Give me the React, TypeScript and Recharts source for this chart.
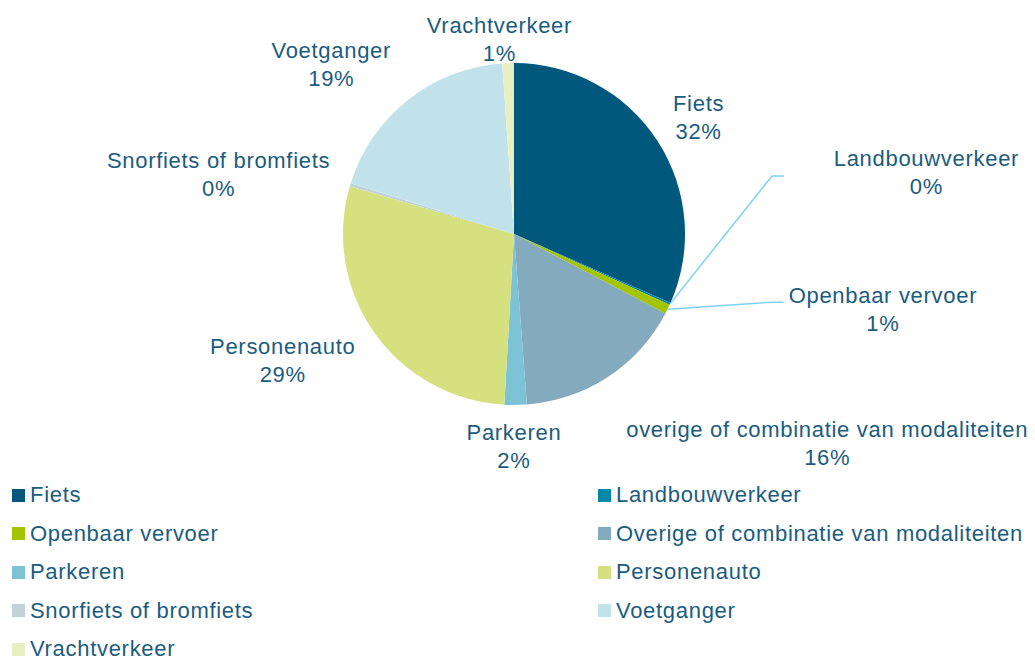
import { PieChart, Pie, Cell, Legend } from 'recharts';

// categories as used in the legend
const categories = [
  'Fiets',
  'Landbouwverkeer',
  'Openbaar vervoer',
  'Overige of combinatie van modaliteiten',
  'Parkeren',
  'Personenauto',
  'Snorfiets of bromfiets',
  'Voetganger',
  'Vrachtverkeer',
];

// label titles next to the pie (Excel writes "overige" lowercase there)
const labelTitles = [
  'Fiets',
  'Landbouwverkeer',
  'Openbaar vervoer',
  'overige of combinatie van modaliteiten',
  'Parkeren',
  'Personenauto',
  'Snorfiets of bromfiets',
  'Voetganger',
  'Vrachtverkeer',
];

// share in percent
const shares = [31.6, 0.2, 0.9, 16.1, 2.1, 28.6, 0.3, 19.1, 1.1];

const colors = [
  '#00587C',
  '#0088A8',
  '#A5C400',
  '#84AABE',
  '#7CC3D5',
  '#D5E17F',
  '#C0D3D8',
  '#C1E2EA',
  '#E8F0C3',
];

const data = categories.map((name, i) => ({ name, value: shares[i] }));

const TEXT = '#1B5C7E';
const FONT = '"Liberation Sans", Arial, sans-serif';
const FONT_SIZE = 22;
const SPACING = 0.7;
const RADIAN = Math.PI / 180;

// where each label sits relative to the middle of its arc
const labelOffsets = [
  { dx: 41, dy: -23 },
  { dx: 256, dy: -131, leader: true },
  { dx: 215, dy: 0, leader: true },
  { dx: 219, dy: 67 },
  { dx: -2, dy: 42 },
  { dx: -92, dy: 28 },
  { dx: -132, dy: -10 },
  { dx: -77, dy: -35 },
  { dx: -9, dy: -24 },
];

const renderLabel = (props: any) => {
  const { cx, cy, midAngle, outerRadius, index, percent } = props;
  const ax = cx + outerRadius * Math.cos(-midAngle * RADIAN);
  const ay = cy + outerRadius * Math.sin(-midAngle * RADIAN);
  const off = labelOffsets[index];
  const x = ax + off.dx;
  const y = ay + off.dy;
  let leader = null;
  if (off.leader) {
    const ly = y + (index === 1 ? 3 : -7);
    const bx = index === 1 ? x - 154 : x - 111;
    leader = (
      <polyline
        points={`${ax},${ay} ${bx},${ly} ${bx + 12},${ly}`}
        fill="none"
        stroke="#80D0F2"
        strokeWidth={1.5}
      />
    );
  }
  const textProps = {
    x: x + SPACING / 2,
    textAnchor: 'middle' as const,
    dominantBaseline: 'central' as const,
    fill: TEXT,
    fontSize: FONT_SIZE,
    fontFamily: FONT,
    letterSpacing: SPACING,
  };
  return (
    <g key={`lbl-${index}`}>
      {leader}
      <text {...textProps} y={y - 14}>
        {labelTitles[index]}
      </text>
      <text {...textProps} y={y + 14}>
        {`${Math.round(percent * 100)}%`}
      </text>
    </g>
  );
};

const renderLegend = () => (
  <div style={{ position: 'relative', width: 1035, height: 184 }}>
    {categories.map((name, i) => {
      const col = i % 2;
      const row = Math.floor(i / 2);
      return (
        <div
          key={name}
          style={{
            position: 'absolute',
            left: col === 0 ? 12 : 598,
            top: row * 38.5 + 10,
            height: 18,
            lineHeight: '18px',
            display: 'flex',
            alignItems: 'center',
            fontFamily: FONT,
            fontSize: FONT_SIZE,
            letterSpacing: SPACING,
            color: TEXT,
            whiteSpace: 'nowrap',
          }}
        >
          <span
            style={{
              display: 'inline-block',
              width: 13,
              height: 13,
              background: colors[i],
              marginRight: 5,
            }}
          />
          {name}
        </div>
      );
    })}
  </div>
);

export default function App() {
  return (
    <div style={{ position: 'absolute', left: 0, top: 0, width: 1035, height: 662, background: '#fff', overflow: 'hidden' }}>
      <PieChart width={1035} height={662} margin={{ top: 0, right: 0, bottom: 0, left: 0 }}>
        <Pie
          data={data}
          dataKey="value"
          nameKey="name"
          cx={514}
          cy={234}
          outerRadius={171}
          startAngle={90}
          endAngle={-270}
          stroke="none"
          label={renderLabel}
          labelLine={false}
          isAnimationActive={false}
        >
          {data.map((d, i) => (
            <Cell key={d.name} fill={colors[i]} />
          ))}
        </Pie>
        <Legend
          content={renderLegend}
          wrapperStyle={{ position: 'absolute', left: 0, top: 476, width: 1035 }}
        />
      </PieChart>
    </div>
  );
}
